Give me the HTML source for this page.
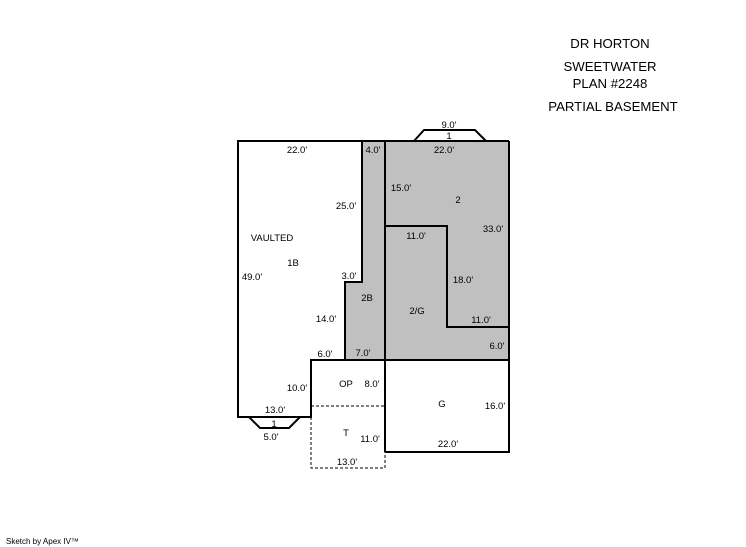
<!DOCTYPE html>
<html><head><style>
html,body{margin:0;padding:0;background:#fff;}
svg{display:block;}
text{font-family:"Liberation Sans",Arial,sans-serif;font-size:9.5px;fill:#000;text-anchor:middle;}
.t{font-size:13.2px;}
</style></head><body>
<svg width="746" height="547" viewBox="0 0 746 547" xmlns="http://www.w3.org/2000/svg">
<rect width="746" height="547" fill="#fff"/>
<polygon points="362,141 509,141 509,360 345,360 345,282 362,282" fill="#c0c0c0"/>
<g fill="none" stroke="#000" stroke-width="2">
<polyline points="362,141 238,141 238,417 311,417 311,360 345,360 345,282 362,282 362,141"/>
<line x1="362" y1="141" x2="509" y2="141"/>
<line x1="385" y1="141" x2="385" y2="452"/>
<polyline points="509,141 509,452 385,452"/>
<line x1="311" y1="360" x2="509" y2="360"/>
<polyline points="385,226 447,226 447,327 509,327"/>
<polyline points="414,141 424,130 475,130 486,141"/>
<polyline points="249,417 260,428 289,428 300,417"/>
</g>
<g fill="none" stroke="#000" stroke-width="1" stroke-dasharray="3,2">
<line x1="311" y1="406" x2="385" y2="406"/>
<polyline points="311,417 311,468 385,468 385,452"/>
</g>
<text x="297" y="153">22.0'</text>
<text x="373" y="153">4.0'</text>
<text x="444" y="153">22.0'</text>
<text x="449" y="128">9.0'</text>
<text x="449" y="139">1</text>
<text x="401" y="191">15.0'</text>
<text x="458" y="203">2</text>
<text x="346" y="209">25.0'</text>
<text x="416" y="239">11.0'</text>
<text x="493" y="232">33.0'</text>
<text x="272" y="241">VAULTED</text>
<text x="293" y="266">1B</text>
<text x="252" y="280">49.0'</text>
<text x="349" y="279">3.0'</text>
<text x="463" y="283">18.0'</text>
<text x="367" y="301">2B</text>
<text x="417" y="314">2/G</text>
<text x="326" y="322">14.0'</text>
<text x="481" y="323">11.0'</text>
<text x="497" y="349">6.0'</text>
<text x="325" y="357">6.0'</text>
<text x="363" y="356">7.0'</text>
<text x="346" y="387">OP</text>
<text x="372" y="387">8.0'</text>
<text x="297" y="391">10.0'</text>
<text x="442" y="407">G</text>
<text x="495" y="409">16.0'</text>
<text x="275" y="413">13.0'</text>
<text x="274" y="427">1</text>
<text x="271" y="440">5.0'</text>
<text x="346" y="436">T</text>
<text x="370" y="442">11.0'</text>
<text x="448" y="447">22.0'</text>
<text x="347" y="465">13.0'</text>
<text class="t" x="610" y="48">DR HORTON</text>
<text class="t" x="610" y="71">SWEETWATER</text>
<text class="t" x="610" y="88">PLAN #2248</text>
<text class="t" x="613" y="111">PARTIAL BASEMENT</text>
<text x="6" y="544" style="text-anchor:start;font-size:8px">Sketch by Apex IV™</text>
</svg>
</body></html>
